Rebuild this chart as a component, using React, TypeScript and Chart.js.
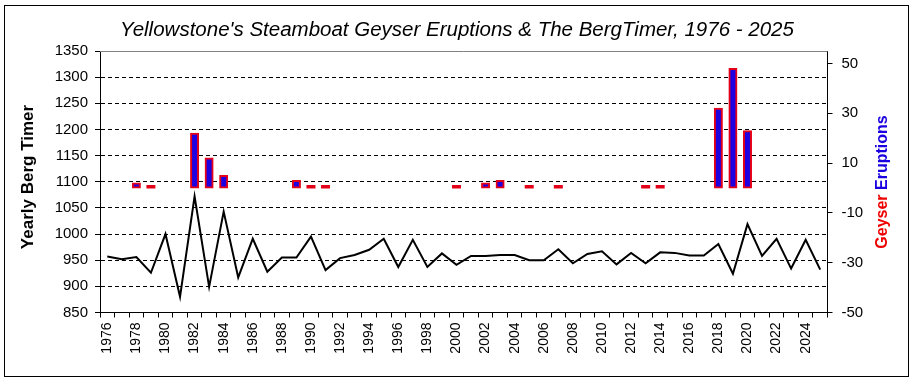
import React, { useEffect, useRef } from 'react';
import { Chart, registerables } from 'chart.js';

Chart.register(...registerables);

const years = [
  '1976', '1977', '1978', '1979', '1980', '1981', '1982', '1983', '1984', '1985',
  '1986', '1987', '1988', '1989', '1990', '1991', '1992', '1993', '1994', '1995',
  '1996', '1997', '1998', '1999', '2000', '2001', '2002', '2003', '2004', '2005',
  '2006', '2007', '2008', '2009', '2010', '2011', '2012', '2013', '2014', '2015',
  '2016', '2017', '2018', '2019', '2020', '2021', '2022', '2023', '2024', '2025',
];

const bergTimer = [
  957, 952, 956, 926, 1000, 880, 1072, 899, 1043, 917,
  991, 928, 955, 955, 995, 931, 954, 960, 970, 991,
  937, 989, 937, 963, 941, 958, 958, 960, 960, 950,
  950, 971, 944, 962, 967, 942, 964, 944, 965, 964,
  959, 959, 981, 924, 1019, 958, 991, 934, 989, 932,
];

const eruptions = [
  0, 0, 2, 1, 0, 0, 22, 12, 5, 0,
  0, 0, 0, 3, 1, 1, 0, 0, 0, 0,
  0, 0, 0, 0, 1, 0, 2, 3, 0, 1,
  0, 1, 0, 0, 0, 0, 0, 1, 1, 0,
  0, 0, 32, 48, 23, 0, 0, 0, 0, 0,
];

const leftTicks = [850, 900, 950, 1000, 1050, 1100, 1150, 1200, 1250, 1300, 1350];
const rightTicks = [-50, -30, -10, 10, 30, 50];

const TITLE = "Yellowstone's Steamboat Geyser Eruptions & The BergTimer, 1976 - 2025";
const LEFT_TITLE = 'Yearly Berg Timer';
const RIGHT_TITLE_A = 'Geyser ';
const RIGHT_TITLE_B = 'Eruptions';

const FONT = "'Liberation Sans', Arial, sans-serif";
const BAR_RED = 'rgb(228,0,24)';
const BAR_BLUE = 'rgb(30,0,225)';
const NONE = 'rgba(0,0,0,0)';

const decorPlugin = {
  id: 'decor',
  afterDraw(chart: any) {
    const { ctx, chartArea } = chart;
    ctx.save();
    // outer frame
    ctx.strokeStyle = '#000';
    ctx.lineWidth = 1;
    ctx.strokeRect(4.5, 5.5, 904, 371);
    // plot top border
    ctx.strokeStyle = '#808080';
    ctx.beginPath();
    ctx.moveTo(chartArea.left, Math.round(chartArea.top) + 0.5);
    ctx.lineTo(chartArea.right, Math.round(chartArea.top) + 0.5);
    ctx.stroke();
    // title
    ctx.fillStyle = '#000';
    ctx.font = `italic 20.5px ${FONT}`;
    ctx.textAlign = 'center';
    ctx.textBaseline = 'middle';
    ctx.fillText(TITLE, 457, 30);
    // left axis title
    ctx.save();
    ctx.translate(28, 177);
    ctx.rotate(-Math.PI / 2);
    ctx.font = `bold 17px ${FONT}`;
    ctx.fillText(LEFT_TITLE, 0, 0);
    ctx.restore();
    // right axis title (two colours)
    ctx.save();
    ctx.translate(883, 182);
    ctx.rotate(-Math.PI / 2);
    ctx.font = `bold 16px ${FONT}`;
    ctx.textAlign = 'left';
    const wa = ctx.measureText(RIGHT_TITLE_A).width;
    const wb = ctx.measureText(RIGHT_TITLE_B).width;
    const start = -(wa + wb) / 2;
    ctx.fillStyle = '#ee0000';
    ctx.fillText(RIGHT_TITLE_A, start, 0);
    ctx.fillStyle = '#1a00e0';
    ctx.fillText(RIGHT_TITLE_B, start + wa, 0);
    ctx.restore();
    ctx.restore();
  },
};

export default function App() {
  const ref = useRef<HTMLCanvasElement | null>(null);

  useEffect(() => {
    if (!ref.current) return;
    const chart = new Chart(ref.current, {
      type: 'bar',
      data: {
        labels: years,
        datasets: [
          {
            type: 'line',
            label: 'Yearly Berg Timer',
            data: bergTimer,
            yAxisID: 'y',
            borderColor: '#000',
            borderWidth: 2,
            pointRadius: 0,
            tension: 0,
            fill: false,
          } as any,
          {
            type: 'bar',
            label: 'Geyser Eruptions',
            data: eruptions,
            yAxisID: 'y1',
            backgroundColor: (c: any) =>
              !c.raw ? NONE : c.raw <= 1 ? BAR_RED : BAR_BLUE,
            borderColor: (c: any) => (!c.raw ? NONE : BAR_RED),
            borderWidth: (c: any) => (!c.raw || c.raw <= 1 ? 0 : 2),
            borderSkipped: false,
            barThickness: 8,
            inflateAmount: 0.5,
          } as any,
        ],
      },
      options: {
        responsive: false,
        animation: false,
        layout: { padding: { top: 51, left: 0, right: 0, bottom: 0 } },
        plugins: {
          legend: { display: false },
          tooltip: { enabled: false },
          title: { display: false },
        },
        scales: {
          x: {
            type: 'category',
            offset: true,
            grid: {
              offset: true,
              drawOnChartArea: false,
              tickLength: 5,
              color: '#000',
              tickColor: '#000',
            },
            border: { display: true, color: '#000', width: 1 },
            ticks: {
              autoSkip: false,
              maxRotation: 90,
              minRotation: 90,
              padding: 5,
              color: '#000',
              font: { family: FONT, size: 14 },
              callback: (_v: any, i: number) => (i % 2 === 0 ? years[i] : ''),
            },
            afterFit: (s: any) => {
              s.height = 383 - 312.5;
            },
          },
          y: {
            type: 'linear',
            position: 'left',
            min: 850,
            max: 1350,
            afterBuildTicks: (s: any) => {
              s.ticks = leftTicks.map((v) => ({ value: v }));
            },
            grid: {
              color: (c: any) =>
                c.tick && (c.tick.value === 850 || c.tick.value === 1350) ? NONE : '#000',
              tickColor: '#000',
              tickLength: 5,
              lineWidth: 1,
            },
            border: { display: true, color: '#000', width: 1, dash: [4, 3] },
            ticks: {
              padding: 7,
              color: '#000',
              font: { family: FONT, size: 15 },
              callback: (v: any) => String(v),
            },
            afterFit: (s: any) => {
              s.width = 100;
            },
          },
          y1: {
            type: 'linear',
            position: 'right',
            min: -50,
            max: 55,
            afterBuildTicks: (s: any) => {
              s.ticks = rightTicks.map((v) => ({ value: v }));
            },
            grid: {
              drawOnChartArea: false,
              tickColor: '#000',
              tickLength: 5,
            },
            border: { display: true, color: '#000', width: 1 },
            ticks: {
              padding: 9,
              color: '#000',
              font: { family: FONT, size: 15 },
              callback: (v: any) => String(v),
            },
            afterFit: (s: any) => {
              s.width = 915 - 827.5;
            },
          },
        },
      } as any,
      plugins: [decorPlugin],
    });
    return () => chart.destroy();
  }, []);

  return (
    <div style={{ position: 'absolute', left: 0, top: 0, width: 915, height: 383, background: '#fff' }}>
      <canvas ref={ref} width={915} height={383} style={{ display: 'block', width: 915, height: 383 }} />
    </div>
  );
}
